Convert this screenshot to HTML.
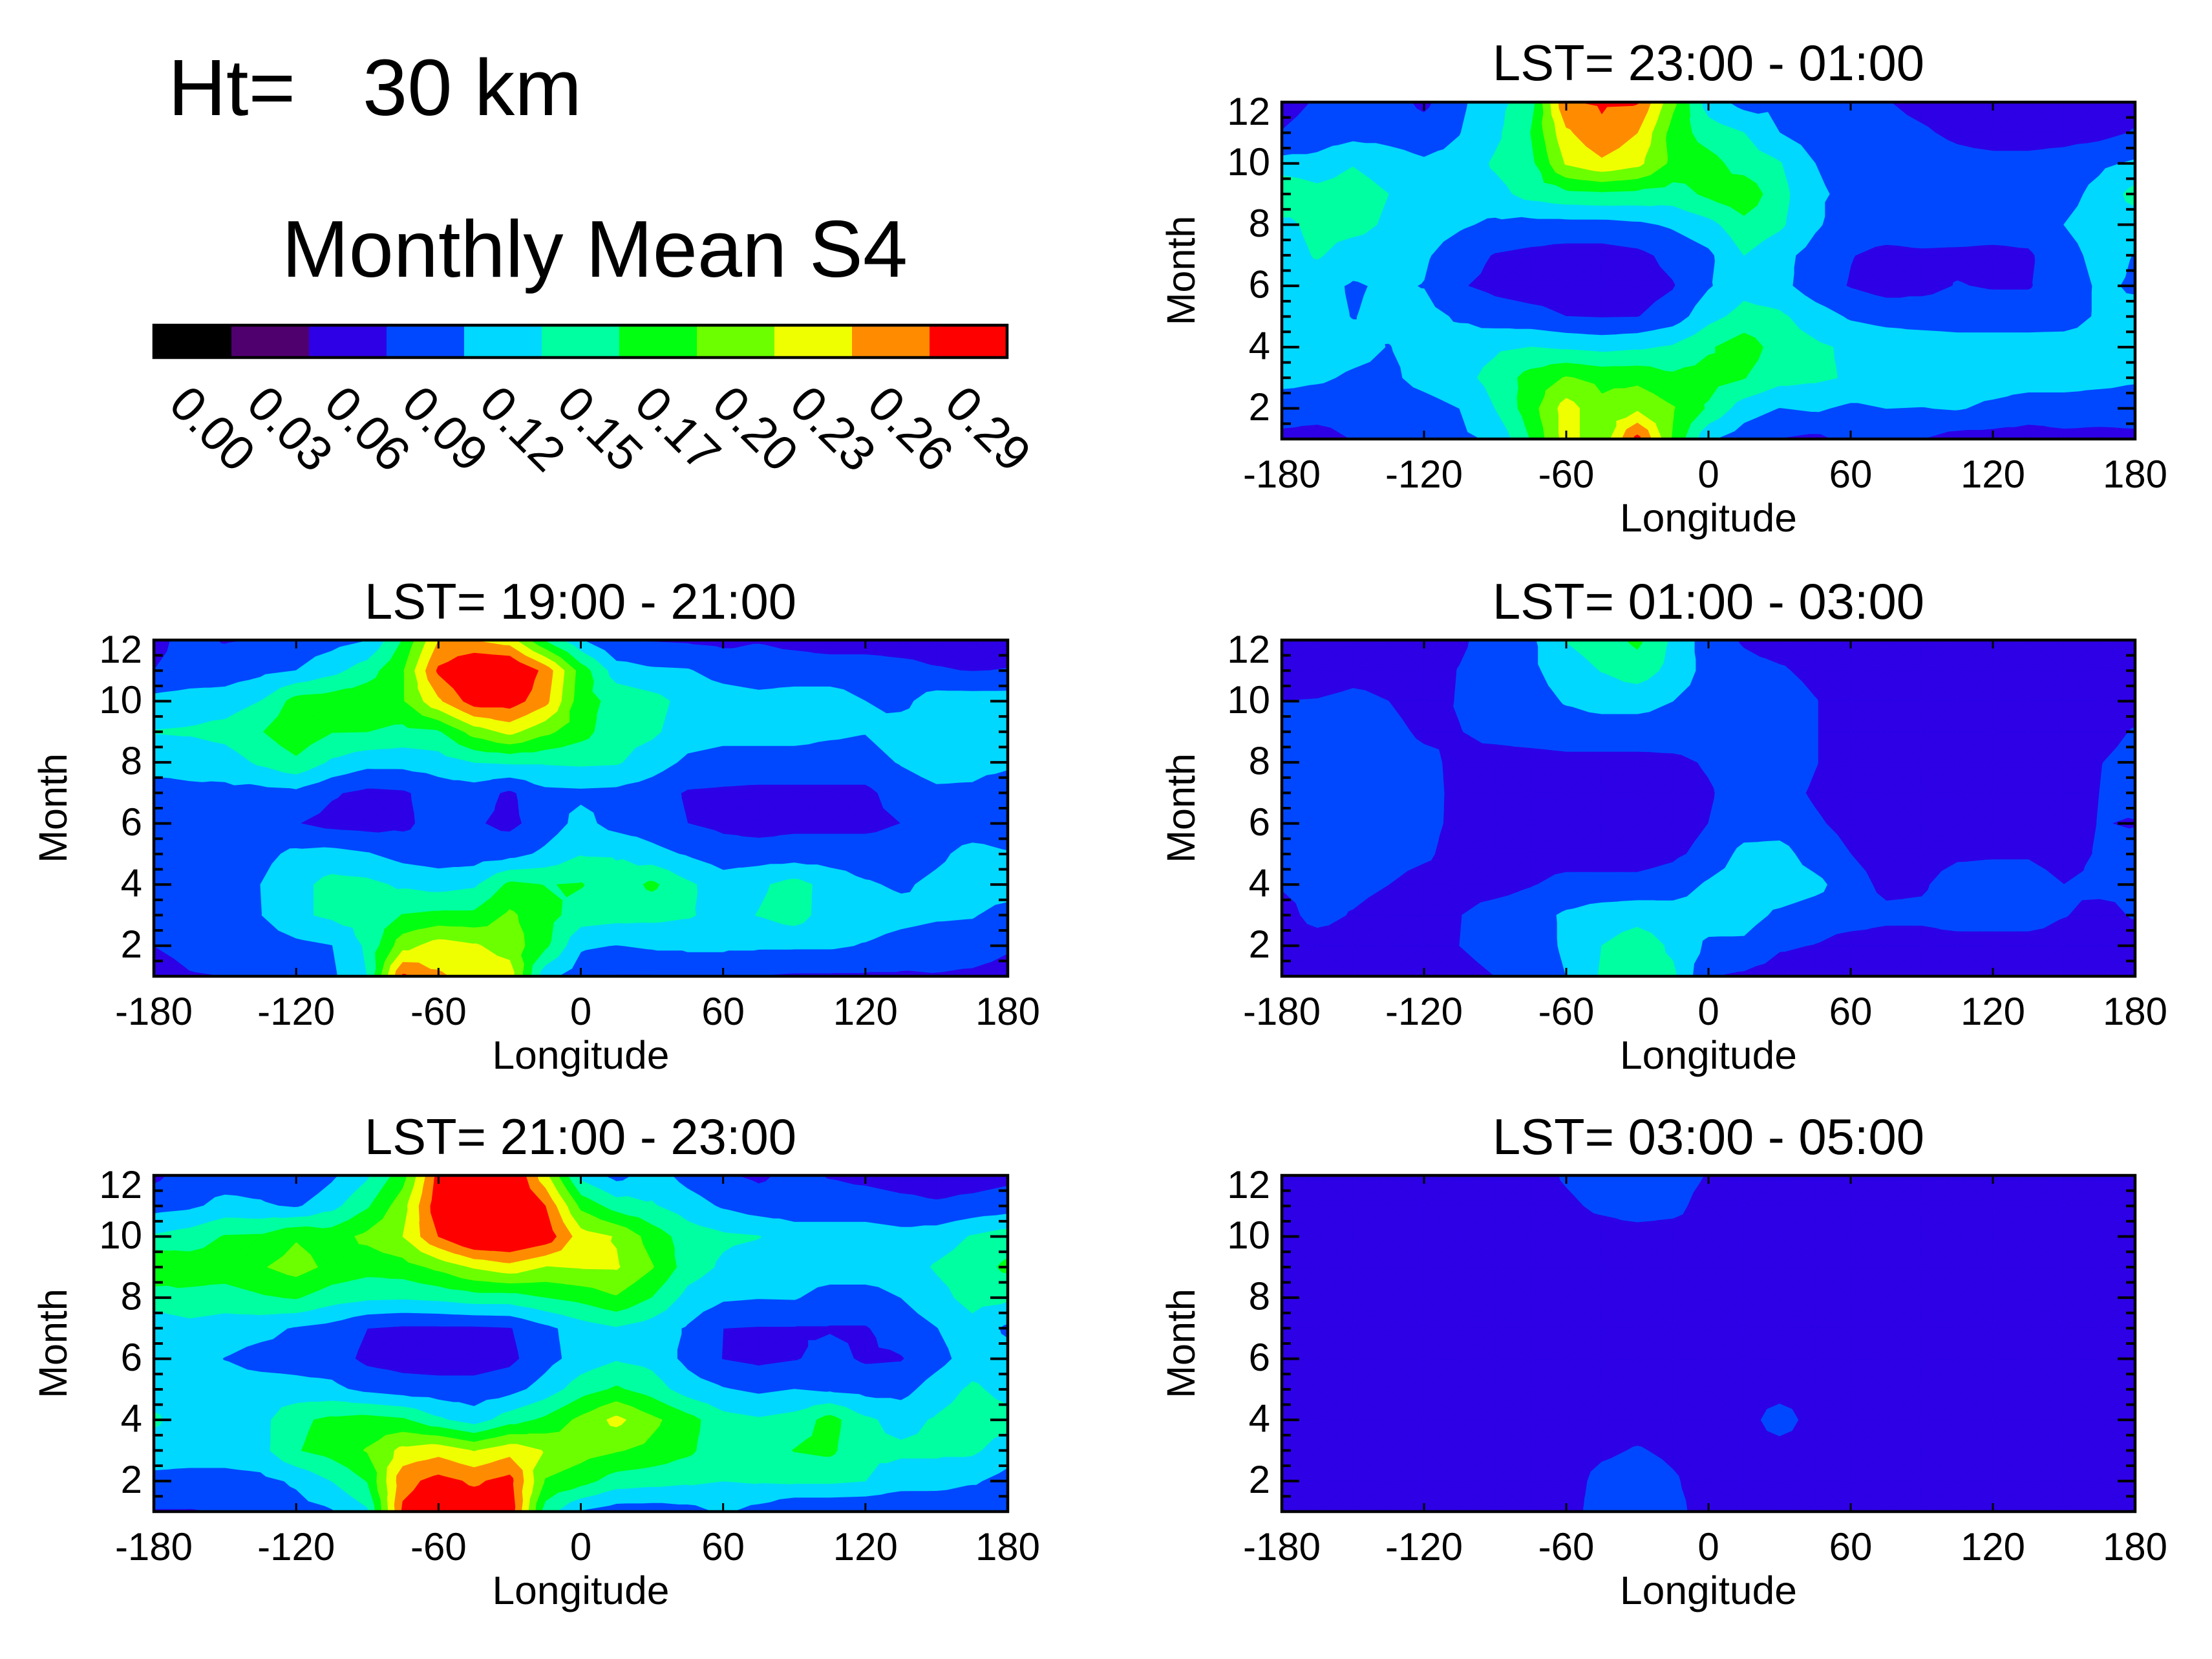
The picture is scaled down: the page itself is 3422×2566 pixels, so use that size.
<!DOCTYPE html>
<html lang="en">
<head>
<meta charset="utf-8">
<title>Monthly Mean S4 at 30 km</title>
<style>
html,body{margin:0;padding:0;background:#fff;width:3422px;height:2566px;overflow:hidden}
svg{display:block}
text{font-family:"Liberation Sans",Arial,sans-serif;fill:#000;white-space:pre}
</style>
</head>
<body>
<svg id="fig" xmlns="http://www.w3.org/2000/svg" width="3422" height="2566" viewBox="0 0 3422 2566">
  <rect x="0" y="0" width="3422" height="2566" fill="#fff"/>
  <text x="260" y="178" font-size="123" textLength="640" lengthAdjust="spacingAndGlyphs">Ht=   30 km</text>
  <text x="436" y="428" font-size="124" textLength="968" lengthAdjust="spacingAndGlyphs">Monthly Mean S4</text>
  <g id="legend"></g>

  <g id="p2300"></g>
  <text x="2643" y="124" font-size="78" text-anchor="middle" textLength="668" lengthAdjust="spacingAndGlyphs">LST= 23:00 - 01:00</text>
  <g id="p1900"></g>
  <text x="898" y="957" font-size="78" text-anchor="middle" textLength="668" lengthAdjust="spacingAndGlyphs">LST= 19:00 - 21:00</text>
  <g id="p2100"></g>
  <text x="898" y="1785" font-size="78" text-anchor="middle" textLength="668" lengthAdjust="spacingAndGlyphs">LST= 21:00 - 23:00</text>
  <g id="p0100"></g>
  <text x="2643" y="957" font-size="78" text-anchor="middle" textLength="668" lengthAdjust="spacingAndGlyphs">LST= 01:00 - 03:00</text>
  <g id="p0300"></g>
  <text x="2643" y="1785" font-size="78" text-anchor="middle" textLength="668" lengthAdjust="spacingAndGlyphs">LST= 03:00 - 05:00</text>
</svg>
<script>
// ---- Chart data (S4 x 100). Rows run from month 12 down to month 1; columns from -180 to 180 by 15 deg.
const longitudes=[-180,-165,-150,-135,-120,-105,-90,-75,-60,-45,-30,-15,0,15,30,45,60,75,90,105,120,135,150,165,180];
const months=[12,11,10,9,8,7,6,5,4,3,2,1];
const contourLevels=[0,2.9,5.8,8.7,11.6,14.5,17.4,20.3,23.2,26.1,29];
const legendLabels=["0.00","0.03","0.06","0.09","0.12","0.15","0.17","0.20","0.23","0.26","0.29"];
const levelColors=["#000000","#50006e","#2d00e6","#0048ff","#00d8ff","#00ffa0","#00ff10","#6cff00","#f0ff00","#ff8c00","#ff0000"];
const lonTicks=[-180,-120,-60,0,60,120,180];
const monthTicks=[2,4,6,8,10,12];

const s4Lst2300=[
[7.5,9,10,10,8,11,13.5,16,28.8,29.3,29.2,21,13,10.5,11,10,9.5,8.8,8,7.5,7,7,7,7.5,7.5],
[8.8,10,10.5,10.5,10,11.5,13.8,17.4,25.5,28.5,26.1,19,16,14.5,11.6,10,10,9.5,9,8.2,7.5,7.5,7.5,7.8,8.9],
[12.5,12.5,14.3,13,12,12.5,14.9,16.5,23.5,25.5,24,19.5,18.5,16,14.7,11.6,10.5,10,10,9.5,9.5,9.5,10,11,12],
[17.5,15.5,16,14.5,13,13,13.5,15.5,16.5,16.8,16.5,16,18,19.5,15.5,12,11,10.5,10,10,10,10,10.5,12.5,15.5],
[13.5,15.5,15.5,14,13,12,11,10.5,10.5,10.5,11,12,13.5,16.5,15,12,10,10,10,10,10,10,11.6,13,13],
[13,14.8,13,13,12,10,8.5,8,7.5,7.5,8,9.5,11,14.5,12.5,10.5,8.8,8,8.3,8.2,8,8.3,10.5,12.5,11.5],
[13,12.5,11.3,12,11.5,8.9,8,7.5,7.5,7.5,7.5,8.5,11.3,13.5,12.5,10,8.5,7.5,8,8.8,8.5,8.5,10,12,11.3],
[12.5,12.5,11.5,12.3,12.5,11.2,10,9.5,8.7,8.5,8.6,10,13.5,15.5,15,13,11.2,10.5,10,10,10,10,10.2,12,12.3],
[14.5,13,12.5,11.5,12.5,13,14,14.5,14,13.5,14,14.8,17,19,16,15,14,13.5,13.5,13,13,13,13,13,13],
[12.5,12,11.2,11,12.5,13.5,15.5,18.5,20.5,19.5,19.5,18,18.5,17.5,15.5,15,14.2,13.5,13.5,13,13,13,13,12.5,12],
[10,10,10,10,10.5,11.6,14.5,19,24.5,21,22.5,20.5,17,13,11.5,12,11,11.6,11.5,11.8,11,10,10,10,10],
[8,7.5,8.8,10,10.5,11,12,17.5,24.5,21,30,20,12,10,8.6,8,9.5,9.5,8.7,7.5,7.5,7.5,8,7.8,8]
];
const s4Lst1900=[
[8,9.5,8.5,8.8,10,10.5,11.5,17.5,26,26,24.5,17,11.8,8.5,8.5,8.3,8,8.5,8,7.5,7.5,7.5,7.5,7.5,7.5],
[8.7,9.5,10,10.8,11.6,13.5,16,20,29.5,33,33,28,19,13,12,11.8,10.5,10,10,10,10,9.5,8.9,8.6,8.8],
[12.5,13,13,14.5,18.5,19,19.5,20,25.5,30.5,30.5,27,18.5,16.5,15.5,13.5,13,12.5,13,13,11.6,10.8,13,13,13],
[14.6,14.8,15.5,17.2,19.5,17.5,17.4,16.5,17,21.5,24,21,18.5,15.5,15,13,12.5,12.5,12.5,12,11.7,13,13,13,12.5],
[13,12.5,13,15,16.8,14,12.5,12.5,13,14.5,14.8,14.8,15,14.8,13,11,10.5,10.5,10.5,10.5,10.5,11.8,13,13,12.5],
[10,11,10.8,10.5,10.8,9,8,8.3,10,10,8.2,10.8,11,10.8,10,8.4,8.2,8,8,8,8,10,11,10.8,8.8],
[10,10,10,10,8.8,7.8,7.5,8,10,9,8,10,12.5,10.5,10,8.7,8,7.5,8,8,8,8.7,10,10,10],
[10,10,10,10.8,12.2,12.5,11.8,10.5,10,10,10.5,12.2,14.3,14.2,12.5,11.3,10,10,10,10,10,10,11,12.5,11.8],
[10,10,10,11.6,13.5,15.5,15.2,14,13.3,14,18,17.3,17.6,15.5,18,15,13,14,15.5,13.5,11.9,11.2,12.2,13,13],
[10,10,10,11.5,14,15,15.5,17.5,18,18,20.8,18.5,16,15.5,15.3,14.8,13.5,14.6,15.8,13,13,12.5,12,11.8,10.5],
[8.7,9.5,10,10,10.8,11.5,15,22,24.5,23.5,22,18,12,11.5,12,12,12,12,12,12,11.4,10.5,10,10,9],
[7.5,8.5,8.7,10,10,11,14.5,29.5,26.5,25,24.5,12.5,10,8.5,8.5,10,10,8.6,8.3,8.3,8.3,8.3,8.5,8.2,7.8]
];
const s4Lst2100=[
[8,10,10,10,8.5,11,14,19,30,33,33,24,13.5,10.5,13,10.5,9,8.2,9.5,8.5,8,7.5,7.5,7.5,8],
[10.5,11,12.5,12,11.2,13.5,17,22,31,33,33,29,19.5,16,14.8,13,11.2,10,10,10,10,9.5,9,9.5,10],
[14.8,15.8,17.6,17.8,20,19,21,23.2,29,33,33,31,24.5,23,19,16,15,14.6,13,13,13,12.5,13,14.7,16],
[20.5,19,19,20,21.5,19.5,18.5,19,21,23.5,25,23,23.4,23.5,20.5,16,14,13,13,13,13,13,14.8,16,18],
[15.5,16.5,16,17,17.6,15.8,15,14.8,15.2,16,16,17.3,18.3,20,17.3,13.5,12,11.7,11.8,10.5,10.5,11.6,13.5,15.5,15],
[13,13.5,13,12.5,11.3,10.5,8.7,8.2,8.2,8.2,8.5,10.8,13,14.2,13,11.3,8.7,8.5,8.5,8.5,8.5,10,11.5,13.5,11],
[11.7,12.8,11.5,10.5,10.5,10,8,7.5,7.3,7.3,8,10.5,12.8,14.2,13.5,10.8,8.6,8,8.5,9.5,8.3,8.5,10.5,13,12.8],
[13,13,13,13,12.5,12.3,10.8,10,9.8,9.8,10.5,12.8,16,17.8,16,13,11.8,11,11.6,11,10.5,10.5,13,15,13.5],
[15,13,13,13.5,16.8,18,18.5,17.8,15,13,16,18,21,24,21,18.5,15.5,14.8,15.5,18.5,15,13.5,14.8,16,15.5],
[13,13,13,13.5,17.2,18.5,20.5,24,25,23,25,23,21.5,20.5,19.5,18,15.5,15.5,17.5,18,15,15,15,15,13],
[10.8,10.5,10.5,10.8,12,14.5,17.5,28,30,28.5,30,20,18.5,16,15.5,15,14.5,14.8,15,15,14.5,13,13,12,10.5],
[8.5,8.5,8.8,10,10.5,11.3,14,29.5,31,31,31,16,11.3,10,10,10.5,12,10.5,8.6,8.6,8.6,8.6,8.5,8.5,10]
];
const s4Lst0100=[
[7.5,7.5,7.5,7.5,7.5,8.2,10,11,14.6,16,18,14,10,8.4,7.5,7.5,7.5,7.5,7.5,7.5,7.5,7.5,7.5,7.5,7.5],
[7.5,7.5,8,8,7.5,8.8,10,11,13,14.6,16,13.5,10.5,9.5,9,8,7.5,7.5,7.5,7.5,7.5,7.5,7.5,7.5,7.5],
[8.7,8.8,9.2,8.7,7.5,8.9,10,10.5,11.8,12.5,12.5,11.6,10.3,10,10,8.8,7.5,7.5,7.5,7.5,7.5,7.5,7.5,7.5,7.5],
[9.5,10,10,9.5,8.2,8.6,9.5,10,10.3,10.3,10.3,10.3,10.3,11.5,10,8.8,7.5,7.5,7.5,7.5,7.5,7.5,7.5,7.8,8.9],
[10,10,10,10,9.4,8,7.5,7.5,7.8,7.8,7.8,8,9,10,10,8.8,7.5,7.5,7.5,7.5,7.5,7.5,7.8,8.6,9.5],
[10,10,10,10,9.6,8,7.5,7.5,7.5,7.5,7.5,7.5,8.4,10,9.5,8.4,7.5,7.5,7.5,7.5,7.5,7.5,7.5,8.7,10],
[10,10,10,10,9.5,8,7.5,7.5,7.5,7.5,7.5,7.5,8.7,10,10,9,8,7.5,7.5,7.5,7.5,7.5,7.5,8.8,8.5],
[10,10,10,9.8,9.2,7.5,7.5,7.5,7.5,7.5,7.5,8.2,9.5,12.5,12.8,10,8.7,7.5,7.5,8.2,8.4,8.4,7.5,9,10],
[8.9,9.5,9.5,8.7,7.5,7.5,7.5,8.5,9.5,9.5,9.5,10,12,13,13.5,12.5,9.8,8,8.3,10,10,10,8.7,9.3,9],
[7.8,9.5,8.5,7.5,7.5,8.6,10,10.5,12,13,13.5,13,13,12.8,11,10,10,9.3,9.3,10,10,10,8.8,8,8.9],
[7.5,7.5,7.5,7.5,7.5,8.7,10,10.3,12,14.5,16,14,11,11,9,8.6,7.5,7.5,7.5,7.5,7.5,7.5,7.5,7.5,7.5],
[7.5,7.5,7.5,7.5,7.5,7.5,8.7,10,11.6,14.8,15.5,15,8.8,8.2,7.5,7.5,7.5,7.5,7.5,7.5,7.5,7.5,7.5,7.5,7.5]
];
const s4Lst0300=[
[7.5,7.5,7.5,7.5,7.5,7.5,7.5,7.5,9,10,10,10,8.5,7.5,7.5,7.5,7.5,7.5,7.5,7.5,7.5,7.5,7.5,7.5,7.5],
[7.5,7.5,7.5,7.5,7.5,7.5,7.5,7.5,8.2,9.2,10,9.5,7.5,7.5,7.5,7.5,7.5,7.5,7.5,7.5,7.5,7.5,7.5,7.5,7.5],
[7.5,7.5,7.5,7.5,7.5,7.5,7.5,7.5,7.5,7.5,7.5,7.5,7.5,7.5,7.5,7.5,7.5,7.5,7.5,7.5,7.5,7.5,7.5,7.5,7.5],
[7.5,7.5,7.5,7.5,7.5,7.5,7.5,7.5,7.5,7.5,7.5,7.5,7.5,7.5,7.5,7.5,7.5,7.5,7.5,7.5,7.5,7.5,7.5,7.5,7.5],
[7.5,7.5,7.5,7.5,7.5,7.5,7.5,7.5,7.5,7.5,7.5,7.5,7.5,7.5,7.5,7.5,7.5,7.5,7.5,7.5,7.5,7.5,7.5,7.5,7.5],
[7.5,7.5,7.5,7.5,7.5,7.5,7.5,7.5,7.5,7.5,7.5,7.5,7.5,7.5,7.5,7.5,7.5,7.5,7.5,7.5,7.5,7.5,7.5,7.5,7.5],
[7.5,7.5,7.5,7.5,7.5,7.5,7.5,7.5,7.5,7.5,7.5,7.5,7.5,7.5,7.5,7.5,7.5,7.5,7.5,7.5,7.5,7.5,7.5,7.5,7.5],
[7.5,7.5,7.5,7.5,7.5,7.5,7.5,7.5,7.5,7.5,7.5,7.5,7.5,7.5,7.5,7.5,7.5,7.5,7.5,7.5,7.5,7.5,7.5,7.5,7.5],
[7.5,7.5,7.5,7.5,7.5,7.5,7.5,7.5,7.5,7.5,7.5,7.5,7.5,7.5,10,7.5,7.5,7.5,7.5,7.5,7.5,7.5,7.5,7.5,7.5],
[7.5,7.5,7.5,7.5,7.5,7.5,7.5,7.5,7.5,8.2,8.9,8.2,7.5,7.5,7.5,7.5,7.5,7.5,7.5,7.5,7.5,7.5,7.5,7.5,7.5],
[7.5,7.5,7.5,7.5,7.5,7.5,7.5,7.5,7.5,9.5,10,9,7.5,7.5,7.5,7.5,7.5,7.5,7.5,7.5,7.5,7.5,7.5,7.5,7.5],
[7.5,7.5,7.5,7.5,7.5,7.5,7.5,7.5,7.5,10,10,9.5,7.5,7.5,7.5,7.5,7.5,7.5,7.5,7.5,7.5,7.5,7.5,7.5,7.5]
];

// ---- Layout
const NS='http://www.w3.org/2000/svg';
const layouts=[
  {id:'p2300',grid:s4Lst2300,key:'23-01',x0:1983,x1:3303,y0:158,y1:679},
  {id:'p1900',grid:s4Lst1900,key:'19-21',x0:238,x1:1559,y0:990,y1:1510},
  {id:'p2100',grid:s4Lst2100,key:'21-23',x0:238,x1:1559,y0:1818,y1:2338},
  {id:'p0100',grid:s4Lst0100,key:'01-03',x0:1983,x1:3303,y0:990,y1:1510},
  {id:'p0300',grid:s4Lst0300,key:'03-05',x0:1983,x1:3303,y0:1818,y1:2338}
];
function make(tag,attrs,parent){
  const el=document.createElementNS(NS,tag);
  for(const k in attrs){el.setAttribute(k,attrs[k]);}
  parent.appendChild(el);
  return el;
}
function xScale(p,lon){return p.x0+(lon+180)/360*(p.x1-p.x0);}
function yScale(p,m){return p.y1-(m-1)/11*(p.y1-p.y0);}

// Keep the part of a triangle (points are [lon, month, value]) where value >= level.
function clipAbove(tri,level){
  const out=[];
  for(let i=0;i<tri.length;i++){
    const a=tri[i],b=tri[(i+1)%tri.length];
    const ain=a[2]>=level,bin=b[2]>=level;
    if(ain){out.push(a);}
    if(ain!==bin){
      const t=(level-a[2])/(b[2]-a[2]);
      out.push([a[0]+t*(b[0]-a[0]),a[1]+t*(b[1]-a[1]),level]);
    }
  }
  return out;
}
function contourPath(p,level){
  const parts=[];
  for(let r=0;r<months.length-1;r++){
    for(let c=0;c<longitudes.length-1;c++){
      const A=[longitudes[c],months[r],p.grid[r][c]];
      const B=[longitudes[c+1],months[r],p.grid[r][c+1]];
      const C=[longitudes[c+1],months[r+1],p.grid[r+1][c+1]];
      const D=[longitudes[c],months[r+1],p.grid[r+1][c]];
      const M=[(A[0]+B[0])/2,(A[1]+D[1])/2,(A[2]+B[2]+C[2]+D[2])/4];
      const tris=[[A,B,M],[B,C,M],[C,D,M],[D,A,M]];
      for(const t of tris){
        const poly=clipAbove(t,level);
        if(poly.length>2){
          parts.push('M'+poly.map(q=>xScale(p,q[0]).toFixed(1)+' '+yScale(p,q[1]).toFixed(1)).join('L')+'Z');
        }
      }
    }
  }
  return parts.join('');
}

function drawPanel(p){
  const g=document.getElementById(p.id);
  // filled contours
  for(let k=0;k<contourLevels.length;k++){
    const d=contourPath(p,contourLevels[k]);
    if(!d){continue;}
    const band=make('path',{d:d,fill:levelColors[k],stroke:levelColors[k],'stroke-width':1.2,'stroke-linejoin':'round'},g);
    
    
  }
  // minor and major month ticks on both sides
  for(let i=2;i<=24;i++){
    const m=i/2;
    if(m>=12){continue;}
    const major=i%4===0;
    const len=major?27:14;
    const y=yScale(p,m);
    const left=make('line',{x1:p.x0,x2:p.x0+len,y1:y,y2:y,stroke:'#000','stroke-width':4},g);
    
    
    const right=make('line',{x1:p.x1,x2:p.x1-len,y1:y,y2:y,stroke:'#000','stroke-width':4},g);
    
    
  }
  // longitude ticks and labels
  for(const lon of lonTicks){
    const x=xScale(p,lon);
    const top=make('line',{x1:x,x2:x,y1:p.y0,y2:p.y0+13,stroke:'#000','stroke-width':3},g);
    
    
    const bottom=make('line',{x1:x,x2:x,y1:p.y1,y2:p.y1-13,stroke:'#000','stroke-width':3},g);
    
    
    const label=make('text',{x:x,y:p.y1+75,'font-size':60,'text-anchor':'middle'},g);
    label.textContent=String(lon);
    
    
  }
  // month labels (the top label sits just below the axis top)
  for(const m of monthTicks){
    const y=m===12?p.y0+35:yScale(p,m)+18.5;
    const label=make('text',{x:p.x0-18,y:y,'font-size':60,'text-anchor':'end'},g);
    label.textContent=String(m);
    
    
  }
  // frame
  const frame=make('rect',{x:p.x0,y:p.y0,width:p.x1-p.x0,height:p.y1-p.y0,fill:'none',stroke:'#000','stroke-width':4.5},g);
  
  
  // axis titles
  const xt=make('text',{x:(p.x0+p.x1)/2,y:p.y1+143,'font-size':61,'text-anchor':'middle',textLength:274,lengthAdjust:'spacingAndGlyphs'},g);
  xt.textContent='Longitude';
  
  
  const ym=(p.y0+p.y1)/2;
  const yx=p.x0-135;
  const yt=make('text',{x:yx,y:ym,'font-size':61,'text-anchor':'middle',transform:'rotate(-90 '+yx+' '+ym+')'},g);
  yt.textContent='Month';
  
  
}

function drawLegend(){
  const g=document.getElementById('legend');
  const x0=238,x1=1558,y0=503,y1=553;
  const w=(x1-x0)/levelColors.length;
  levelColors.forEach(function(col,i){
    const sw=make('rect',{x:x0+i*w,y:y0,width:w+0.5,height:y1-y0,fill:col},g);
    
    
    const x=x0+20+i*w;
    const t=make('text',{x:x,y:629,'font-size':76,transform:'rotate(45 '+x+' 629)'},g);
    t.textContent=legendLabels[i];
    
    
  });
  const frame=make('rect',{x:x0,y:y0,width:x1-x0,height:y1-y0,fill:'none',stroke:'#000','stroke-width':4.5},g);
  
  
}

drawLegend();
layouts.forEach(drawPanel);
</script>
</body>
</html>
